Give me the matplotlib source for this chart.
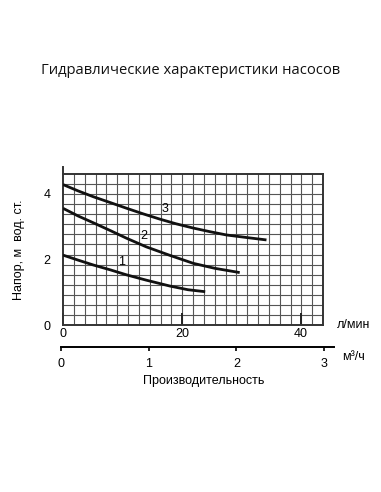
import numpy as np
import matplotlib.pyplot as plt

# Pump curves, flow in l/min, head in m
flow_1 = [0, 2.5, 5.1, 8.0, 10.7, 14.0, 18.0, 21.0, 23.9]
head_1 = [2.12, 1.97, 1.82, 1.67, 1.52, 1.36, 1.18, 1.07, 1.01]
flow_2 = [0, 2.5, 5.1, 8.0, 10.7, 14.0, 18.0, 21.9, 25.5, 29.7]
head_2 = [3.54, 3.31, 3.10, 2.86, 2.63, 2.37, 2.11, 1.87, 1.72, 1.59]
flow_3 = [0, 2.5, 5.1, 8.0, 10.7, 13.5, 16.3, 19.0, 21.9, 24.7, 27.5, 31.0, 34.2]
head_3 = [4.26, 4.07, 3.89, 3.71, 3.54, 3.37, 3.21, 3.07, 2.94, 2.83, 2.73, 2.65, 2.58]
curve_labels = ["1", "2", "3"]
label_pos = [(9.9, 1.72), (13.6, 2.52), (17.1, 3.33)]

x_ticks_lmin = [0, 20, 40]
y_ticks = [0, 2, 4]
x_ticks_m3h = [0, 1, 2, 3]

xmax, ymax = 43.7, 4.58

plt.rcParams['font.family'] = ['Liberation Sans', 'DejaVu Sans']

fig = plt.figure(figsize=(3.81, 4.92), dpi=100)
fig.text(191 / 381, 1 - 70 / 492, "Гидравлические характеристики насосов",
         ha='center', va='center', fontsize=10.6, color='#111111',
         family=['Open Sans', 'DejaVu Sans'])

ax = fig.add_axes([63 / 381, 167 / 492, 260 / 381, 151 / 492])
ax.set_xlim(0, xmax)
ax.set_ylim(0, ymax)

# grid (not aligned with ticks in the original)
for gx in np.linspace(0, xmax, 25)[1:-1]:
    ax.axvline(gx, color='#555555', lw=0.8, zorder=1)
for gy in np.linspace(0, ymax, 16)[1:-1]:
    ax.axhline(gy, color='#555555', lw=0.8, zorder=1)

for sp in ax.spines.values():
    sp.set_color('#333333')
    sp.set_linewidth(1.4)
# left axis sticks out a little above the frame
ax.plot([0, 0], [ymax, ymax + 0.22], color='#333333', lw=1.4, clip_on=False)

for fl, hd in [(flow_1, head_1), (flow_2, head_2), (flow_3, head_3)]:
    ax.plot(fl, hd, color='#111111', lw=2.0, solid_capstyle='butt',
            solid_joinstyle='round', zorder=3)
for lab, (lx, ly) in zip(curve_labels, label_pos):
    ax.text(lx, ly, lab, fontsize=9, ha='center', va='bottom', zorder=4)

ax.set_xticks(x_ticks_lmin)
ax.set_yticks(y_ticks)
ax.tick_params(axis='x', direction='in', length=9, width=1.4, color='#222222',
               labelsize=9, pad=2)
ax.tick_params(axis='y', length=0, labelsize=9, pad=9)
ax.set_ylabel("Напор, м  вод. ст.", fontsize=9, labelpad=13)
ax.text(337 / 381, 1 - 325 / 492, "л/мин", transform=fig.transFigure,
        fontsize=9, ha='left', va='center')

# second flow scale, m3/h
ax2 = fig.add_axes([61 / 381, 145 / 492, 273 / 381, 0.001])
ax2.set_xlim(0, 3.114)
ax2.set_ylim(0, 1)
for s in ['top', 'left', 'right']:
    ax2.spines[s].set_visible(False)
ax2.spines['bottom'].set_linewidth(1.4)
ax2.set_yticks([])
ax2.set_xticks(x_ticks_m3h)
ax2.tick_params(axis='x', direction='out', length=3, width=1.2, labelsize=9, pad=5)
fig.text(342 / 381, 1 - 357 / 492, "м³/ч", fontsize=9, ha='left', va='center')
fig.text(204 / 381, 1 - 381 / 492, "Производительность", fontsize=9,
         ha='center', va='center')

fig.savefig("out.png", dpi=100)
